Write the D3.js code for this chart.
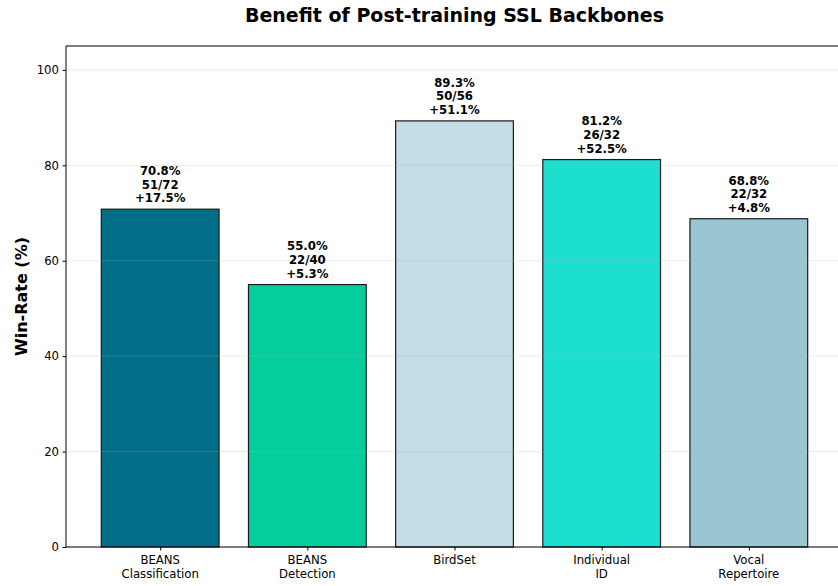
<!DOCTYPE html>
<html><head><meta charset="utf-8">
<script src="https://cdn.jsdelivr.net/npm/d3@7"></script>
<style>body{margin:0;background:#fff}svg{display:block;font-family:"DejaVu Sans",sans-serif}</style>
</head><body><svg id="c" width="838" height="586"></svg>
<script>
const categories = ["BEANS\nClassification","BEANS\nDetection","BirdSet","Individual\nID","Vocal\nRepertoire"];
const winRates = [70.8, 55.0, 89.3, 81.2, 68.8];
const winCounts = ["51/72","22/40","50/56","26/32","22/32"];
const gains = ["+17.5%","+5.3%","+51.1%","+52.5%","+4.8%"];
const colors = ["#026e87","#06cd9e","#c5dde6","#1ddfd0","#9ac5d2"];
const yTicks = [0,20,40,60,80,100];

const svg = d3.select("#c");
const m = {left:66, top:46, right:843, bottom:547};
const x = d3.scaleLinear().domain([-0.64, categories.length-1+0.64]).range([m.left, m.right]);
const y = d3.scaleLinear().domain([0,105]).range([m.bottom, m.top]);
const bw = x(0.4)-x(-0.4);

const bars = svg.append("g");
bars.selectAll("rect").data(winRates).join("rect")
  .attr("x",(d,i)=>x(i)-bw/2).attr("y",d=>y(d))
  .attr("width",bw).attr("height",d=>y(0)-y(d))
  .attr("fill",(d,i)=>colors[i]).attr("stroke","#1a1a1a").attr("stroke-width",1.2);

// grid over bars
svg.append("g").selectAll("line").data(yTicks).join("line")
  .attr("x1",m.left).attr("x2",m.right).attr("y1",d=>y(d)).attr("y2",d=>y(d))
  .attr("stroke","#b0b0b0").attr("stroke-opacity",0.3).attr("stroke-width",0.8);

// annotations
const ann = svg.append("g").attr("font-weight","bold").attr("font-size","11.7px").attr("text-anchor","middle").attr("fill","#000");
winRates.forEach((v,i)=>{
  const lines=[v.toFixed(1)+"%", winCounts[i], gains[i]];
  lines.forEach((t,j)=>{
    ann.append("text").attr("x",x(i)).attr("y",y(v)-7-(2-j)*13.6).text(t);
  });
});

// axes
const ya = d3.axisLeft(y).tickValues(yTicks).tickSize(3.5).tickPadding(3.5);
const yg = svg.append("g").attr("transform",`translate(${m.left},0)`).call(ya);
yg.select(".domain").remove();
yg.selectAll("text").attr("font-size","11.7px").attr("font-family","DejaVu Sans").attr("fill","#000");
yg.selectAll("line").attr("stroke","#000");

const xa = d3.axisBottom(x).tickValues(d3.range(categories.length)).tickSize(3.5).tickFormat("");
const xg = svg.append("g").attr("transform",`translate(0,${m.bottom})`).call(xa);
xg.select(".domain").remove();
xg.selectAll("line").attr("stroke","#000");
categories.forEach((c,i)=>{
  c.split("\n").forEach((t,j)=>{
    svg.append("text").attr("x",x(i)).attr("y",m.bottom+17+j*14).attr("text-anchor","middle")
      .attr("font-size","11.7px").attr("fill","#000").text(t);
  });
});

// spines
svg.append("line").attr("x1",m.left).attr("x2",m.left).attr("y1",m.top).attr("y2",m.bottom).attr("stroke","#000").attr("stroke-width",1);
svg.append("line").attr("x1",m.left).attr("x2",m.right).attr("y1",m.bottom).attr("y2",m.bottom).attr("stroke","#000").attr("stroke-width",1);
svg.append("line").attr("x1",m.left).attr("x2",m.right).attr("y1",m.top).attr("y2",m.top).attr("stroke","#000").attr("stroke-width",1);

svg.append("text").attr("x",(m.left+m.right)/2).attr("y",22).attr("text-anchor","middle")
  .attr("font-size","19px").attr("font-weight","bold").text("Benefit of Post-training SSL Backbones");
svg.append("text").attr("transform",`translate(27,${(m.top+m.bottom)/2}) rotate(-90)`).attr("text-anchor","middle")
  .attr("font-size","16px").attr("font-weight","bold").text("Win-Rate (%)");
</script></body></html>
